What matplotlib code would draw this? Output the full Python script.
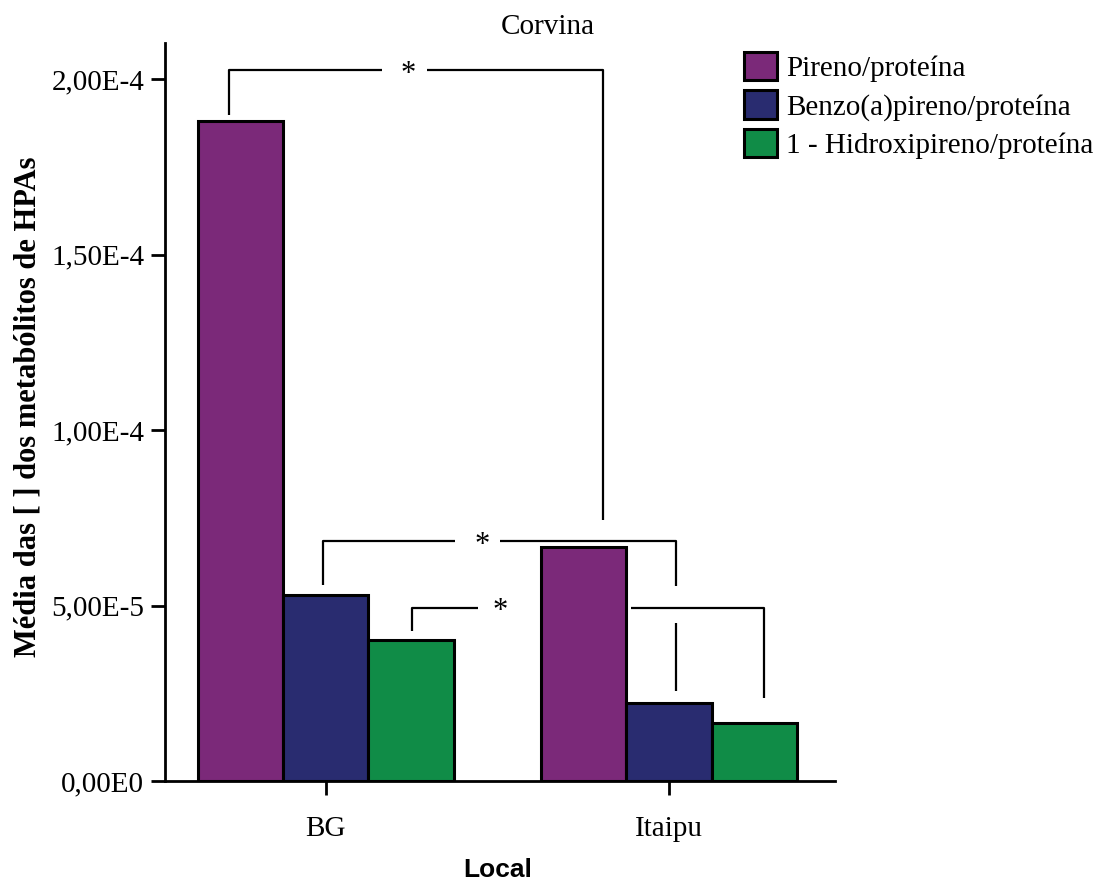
import numpy as np
import matplotlib
matplotlib.use("Agg")
import matplotlib.pyplot as plt

plt.rcParams['font.family'] = ['Liberation Serif', 'DejaVu Serif']

# Mean metabolite / protein ratios per site
locais = ["BG", "Itaipu"]
series = ["Pireno/proteína", "Benzo(a)pireno/proteína", "1 - Hidroxipireno/proteína"]
pireno = [1.88e-4, 6.67e-5]
benzo = [5.30e-5, 2.22e-5]
hidroxi = [4.02e-5, 1.65e-5]
cores = ["#7B2979", "#292C70", "#108C47"]

yticks = [0, 5e-5, 1e-4, 1.5e-4, 2e-4]
ytick_labels = ["0,00E0", "5,00E-5", "1,00E-4", "1,50E-4", "2,00E-4"]

# Significance brackets: left x, right x, top y, left leg end, right leg end,
# star x, gap in horizontal line (x0, x1), gaps in right leg (y0, y1) or None
brackets = [
    (-0.283, 0.808, 2.026e-4, 1.897e-4, 7.44e-5, 0.239, (0.163, 0.294), None),
    (-0.009, 1.020, 6.84e-5, 5.58e-5, 2.56e-5, 0.455, (0.376, 0.507), (4.50e-5, 5.56e-5)),
    (0.250, 1.277, 4.94e-5, 4.28e-5, 2.37e-5, 0.507, (0.443, 0.889), None),
]

fig = plt.figure(figsize=(10.98, 8.82), dpi=100)
ax = fig.add_axes([0.1503, 0.1145, 0.6102, 0.8367])

x = np.arange(len(locais))
w = 0.248
for i, (vals, cor, nome) in enumerate(zip([pireno, benzo, hidroxi], cores, series)):
    ax.bar(x + (i - 1) * w, vals, width=w, color=cor, edgecolor="black",
           linewidth=2.2, label=nome, zorder=3)

lw_b = 1.6
for xl, xr, yt, yl, yr, xs, gap, leg_gap in brackets:
    ax.plot([xl, xl, gap[0]], [yl, yt, yt], color="black", lw=lw_b, zorder=2,
            solid_capstyle="butt")
    if leg_gap is None:
        ax.plot([gap[1], xr, xr], [yt, yt, yr], color="black", lw=lw_b, zorder=2,
                solid_capstyle="butt")
    else:
        ax.plot([gap[1], xr, xr], [yt, yt, leg_gap[1]], color="black", lw=lw_b,
                zorder=2, solid_capstyle="butt")
        ax.plot([xr, xr], [leg_gap[0], yr], color="black", lw=lw_b, zorder=2,
                solid_capstyle="butt")
    ax.annotate("*", xy=(xs, yt), xytext=(0, -8.5), textcoords="offset points",
                ha="center", va="baseline", fontsize=22)

ax.set_xlim(-0.469, 1.484)
ax.set_ylim(0, 2.1026e-4)
ax.set_xticks(x)
ax.set_xticklabels(locais, fontsize=21)
ax.set_yticks(yticks)
ax.set_yticklabels(ytick_labels, fontsize=21)

for s in ["top", "right"]:
    ax.spines[s].set_visible(False)
for s in ["left", "bottom"]:
    ax.spines[s].set_linewidth(2)
ax.tick_params(axis="both", direction="out", length=10, width=2)
ax.tick_params(axis="y", pad=5)
ax.tick_params(axis="x", pad=15)

fig.text(548 / 1098, 1 - 27 / 882, "Corvina", ha="center", va="center", fontsize=21)
fig.text(28 / 1098, 1 - 407 / 882, "Média das [ ] dos metabólitos de HPAs",
         rotation=90, ha="center", va="center", fontsize=22, fontweight="bold")
fig.text(498 / 1098, 1 - 870 / 882, "Local", ha="center", va="center",
         fontsize=19, fontweight="bold", family=["Liberation Sans", "DejaVu Sans"])

fig.legend(loc="upper left", bbox_to_anchor=(744 / 1098, 1 - 52 / 882),
           frameon=False, fontsize=21, handlelength=1.12, handleheight=1.12,
           handletextpad=0.32, labelspacing=0.28, borderpad=0, borderaxespad=0)

fig.savefig("out.png", dpi=100)
